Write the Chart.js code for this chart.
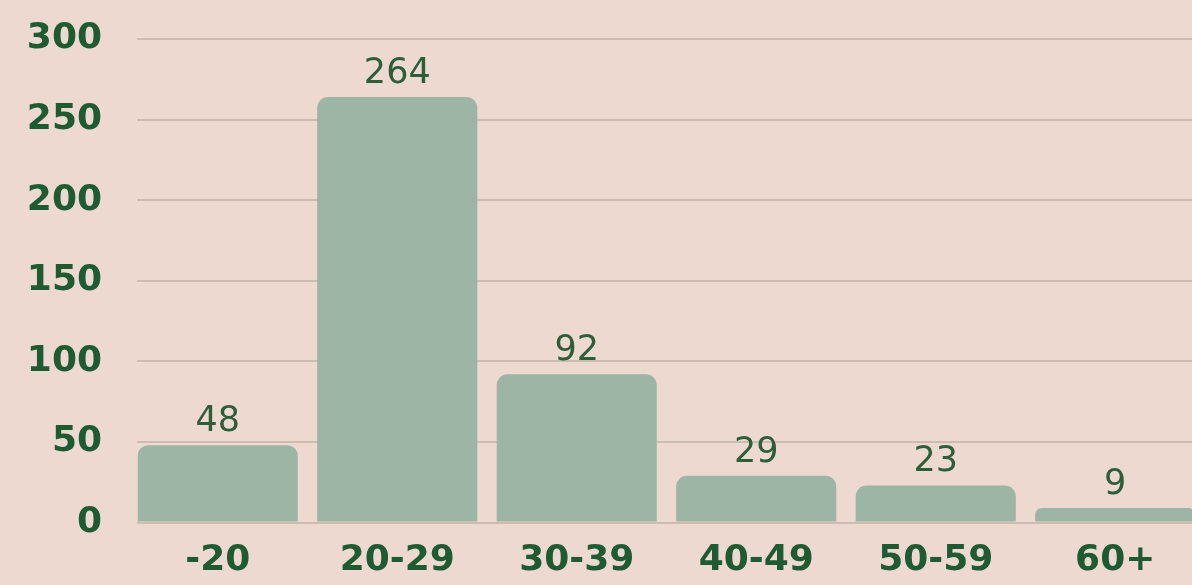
<!DOCTYPE html>
<html>
<head>
<meta charset="utf-8">
<script src="https://cdn.jsdelivr.net/npm/chart.js@4.4.1/dist/chart.umd.min.js"></script>
<style>
  html, body { margin: 0; padding: 0; background: #EDD9D0; overflow: hidden; }
  #wrap { width: 1196px; height: 585px; position: relative; }
</style>
</head>
<body>
<div id="wrap"><canvas id="c"></canvas></div>
<script>
const categories = ['-20', '20-29', '30-39', '40-49', '50-59', '60+'];
const counts = [48, 264, 92, 29, 23, 9];
const yTicks = [0, 50, 100, 150, 200, 250, 300];

const labelColor = '#1E5B33';
const valueColor = '#2C5E3A';
const barColor = '#9DB5A4';
const gridColor = '#CDBCB1';

const valueLabels = {
  id: 'valueLabels',
  afterDatasetsDraw(chart) {
    const ctx = chart.ctx;
    const meta = chart.getDatasetMeta(0);
    ctx.save();
    ctx.font = '400 35px "DejaVu Sans", sans-serif';
    ctx.fillStyle = valueColor;
    ctx.textAlign = 'center';
    ctx.textBaseline = 'alphabetic';
    meta.data.forEach((el, i) => {
      ctx.fillText(String(counts[i]), el.x, el.y - 14);
    });
    ctx.restore();
  }
};

new Chart(document.getElementById('c'), {
  type: 'bar',
  data: {
    datasets: [{
      data: counts.map((v, i) => ({ x: i, y: v })),
      backgroundColor: barColor,
      borderRadius: { topLeft: 11, topRight: 11, bottomLeft: 0, bottomRight: 0 },
      borderSkipped: 'bottom',
      categoryPercentage: 1,
      barPercentage: 0.892
    }]
  },
  options: {
    responsive: true,
    maintainAspectRatio: false,
    animation: false,
    layout: { padding: { top: 39, bottom: 6, left: 0, right: 0 } },
    plugins: { legend: { display: false }, tooltip: { enabled: false } },
    scales: {
      x: {
        type: 'linear',
        offset: false,
        min: -0.45,
        max: 5.45,
        afterFit: (scale) => { scale.height = 56.5; scale.paddingLeft = 0; scale.paddingRight = 0; },
        grid: { display: false, drawTicks: false, offset: false },
        border: { display: false },
        ticks: {
          stepSize: 1,
          includeBounds: false,
          autoSkip: false,
          maxRotation: 0,
          padding: 17,
          color: labelColor,
          font: { family: '"DejaVu Sans", sans-serif', size: 36, weight: 'bold' },
          callback: (v) => (Number.isInteger(v) && categories[v] !== undefined) ? categories[v] : ''
        }
      },
      y: {
        min: 0,
        max: 300,
        afterBuildTicks: (scale) => { scale.ticks = yTicks.map(v => ({ value: v })); },
        afterFit: (scale) => { scale.width = 137; scale.paddingTop = 0; scale.paddingBottom = 0; },
        grid: { color: gridColor, lineWidth: 2, drawTicks: false },
        border: { display: false },
        ticks: {
          padding: 35,
          color: labelColor,
          font: { family: '"DejaVu Sans", sans-serif', size: 36, weight: 'bold' }
        }
      }
    }
  },
  plugins: [valueLabels]
});
</script>
</body>
</html>
